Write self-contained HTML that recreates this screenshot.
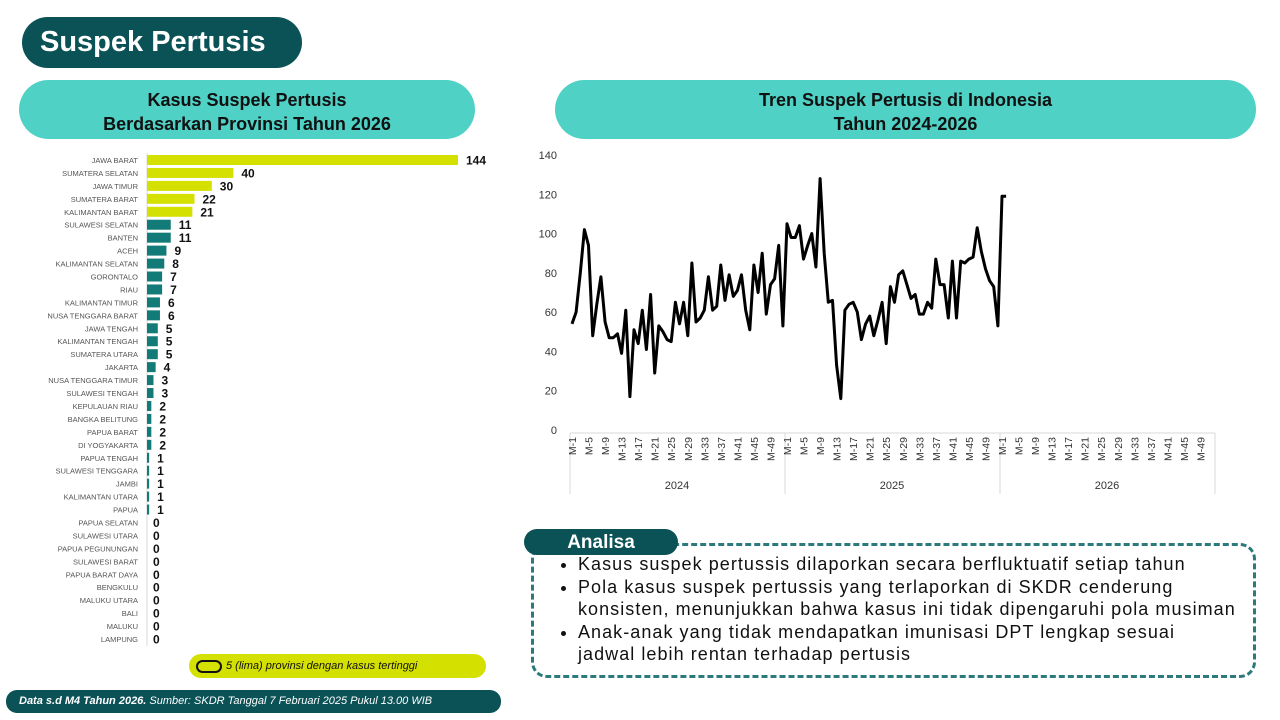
<!DOCTYPE html>
<html><head><meta charset="utf-8">
<style>
body{margin:0;width:1280px;height:720px;background:#fff;font-family:"Liberation Sans",sans-serif;position:relative;overflow:hidden}
.abs{position:absolute}
.title{left:22px;top:17px;width:280px;height:51px;background:#0b5257;border-radius:26px;color:#fff;font-weight:bold;font-size:29px;line-height:51px;padding-left:18px;box-sizing:border-box}
.hdr{background:#4fd1c5;border-radius:30px;color:#111;font-weight:bold;font-size:18px;text-align:center;line-height:24px;padding-top:8px;box-sizing:border-box}
</style></head><body>
<div class="abs title">Suspek Pertusis</div>
<div class="abs hdr" style="left:19px;top:80px;width:456px;height:59px">Kasus Suspek Pertusis<br>Berdasarkan Provinsi Tahun 2026</div>
<div class="abs hdr" style="left:555px;top:80px;width:701px;height:59px">Tren Suspek Pertusis di Indonesia<br>Tahun 2024-2026</div>

<svg class="abs" style="left:0;top:0" width="1280" height="720" id="charts"></svg>

<div class="abs" style="left:189px;top:654px;width:297px;height:24px;background:#d4e000;border-radius:12px;font-size:11px;font-style:italic;line-height:24px;color:#111"><span style="display:inline-block;width:22px;height:9px;border:2.5px solid #111;border-radius:7px;vertical-align:middle;margin:0 4px 0 7px"></span>5 (lima) provinsi dengan kasus tertinggi</div>
<div class="abs" style="left:6px;top:690px;width:495px;height:23px;background:#0b5257;border-radius:11px;color:#fff;font-size:11px;font-style:italic;line-height:23px;padding-left:13px;box-sizing:border-box"><b>Data s.d M4 Tahun 2026.</b> Sumber: SKDR Tanggal 7 Februari 2025 Pukul 13.00 WIB</div>

<div class="abs" style="left:531px;top:543px;width:725px;height:135px;border:3px dashed #2c7a7b;border-radius:16px;box-sizing:border-box"></div>
<div class="abs" style="left:524px;top:529px;width:154px;height:26px;background:#0b5257;border-radius:13px;color:#fff;font-weight:bold;font-size:19px;text-align:center;line-height:27px">Analisa</div>
<ul class="abs" style="left:548px;top:553px;width:700px;margin:0;padding:0 0 0 30px;font-size:18px;line-height:22.5px;color:#111;white-space:nowrap;letter-spacing:1.05px">
<li>Kasus suspek pertussis dilaporkan secara berfluktuatif setiap tahun</li>
<li>Pola kasus suspek pertussis yang terlaporkan di SKDR cenderung<br>konsisten, menunjukkan bahwa kasus ini tidak dipengaruhi pola musiman</li>
<li>Anak-anak yang tidak mendapatkan imunisasi DPT lengkap sesuai<br>jadwal lebih rentan terhadap pertusis</li>
</ul>

<script>
const provinces=["JAWA BARAT","SUMATERA SELATAN","JAWA TIMUR","SUMATERA BARAT","KALIMANTAN BARAT","SULAWESI SELATAN","BANTEN","ACEH","KALIMANTAN SELATAN","GORONTALO","RIAU","KALIMANTAN TIMUR","NUSA TENGGARA BARAT","JAWA TENGAH","KALIMANTAN TENGAH","SUMATERA UTARA","JAKARTA","NUSA TENGGARA TIMUR","SULAWESI TENGAH","KEPULAUAN RIAU","BANGKA BELITUNG","PAPUA BARAT","DI YOGYAKARTA","PAPUA TENGAH","SULAWESI TENGGARA","JAMBI","KALIMANTAN UTARA","PAPUA","PAPUA SELATAN","SULAWESI UTARA","PAPUA PEGUNUNGAN","SULAWESI BARAT","PAPUA BARAT DAYA","BENGKULU","MALUKU UTARA","BALI","MALUKU","LAMPUNG"];
const cases=[144,40,30,22,21,11,11,9,8,7,7,6,6,5,5,5,4,3,3,2,2,2,2,1,1,1,1,1,0,0,0,0,0,0,0,0,0,0];
const s2024=[54,60,80,102,94,48,64,78,55,47,47,49,39,61,17,51,44,61,41,69,29,53,50,46,45,65,54,65,48,85,55,57,61,78,61,63,84,66,79,68,71,79,61,51,84,70,90,59,74,77,94,53];
const s2025=[105,98,98,104,87,94,100,83,128,90,65,66,33,16,61,64,65,60,46,54,58,48,56,65,44,73,65,79,81,74,67,69,59,59,65,62,87,74,74,57,86,57,86,85,87,88,103,91,82,76,73,53];
const s2026=[119,119];
const years=["2024","2025","2026"];
const yTicks=[0,20,40,60,80,100,120,140];
const weekLabels=["M-1","M-5","M-9","M-13","M-17","M-21","M-25","M-29","M-33","M-37","M-41","M-45","M-49"];

const NS="http://www.w3.org/2000/svg";
const svg=document.getElementById('charts');
function el(t,a,txt){const e=document.createElementNS(NS,t);for(const k in a)e.setAttribute(k,a[k]);if(txt!==undefined)e.textContent=txt;svg.appendChild(e);return e;}

// bar chart
const bx0=147,bk=311/144,by0=160,bstep=(639-160)/(provinces.length-1);
const bx=v=>bx0+v*bk, byc=i=>by0+i*bstep;
el('line',{x1:bx0,x2:bx0,y1:153,y2:646,stroke:'#d9d9d9','stroke-width':1});
provinces.forEach((p,i)=>{
  const t=el('text',{x:138,y:byc(i)+3,'text-anchor':'end','font-size':7.5,fill:'#555'},p);
  
  
  const r=el('rect',{x:bx0,y:byc(i)-5,width:Math.max(bx(cases[i])-bx0,0),height:10,fill:i<5?'#d4e000':'#127b77'});
  
  
  const v=el('text',{x:bx(cases[i])+(cases[i]>0?8:6),y:byc(i)+4.5,'font-size':12,'font-weight':'bold',fill:'#111'},cases[i]);
  
  
});

// line chart
const lx0=570,weekW=215/52,ly0=430,lk=275/140;
const lx=w=>lx0+2+w*weekW, ly=v=>ly0-v*lk;
yTicks.forEach(t=>{
  const e=el('text',{x:557,y:ly(t)+4,'text-anchor':'end','font-size':11,fill:'#333'},t);
  
  
});
el('line',{x1:lx0,x2:lx0+645,y1:ly0+3,y2:ly0+3,stroke:'#d9d9d9'});
for(let y=0;y<=3;y++){const x=lx0+y*215;el('line',{x1:x,x2:x,y1:ly0+3,y2:494,stroke:'#d9d9d9'});}
years.forEach((yr,yi)=>{
  weekLabels.forEach(w=>{
    const n=parseInt(w.slice(2));const x=lx(yi*52+n-1)+4;
    const e=el('text',{x:x,y:ly0+7,'font-size':10.5,fill:'#333','text-anchor':'end',transform:`rotate(-90 ${x} ${ly0+7})`},w);
    
    
  });
  const e=el('text',{x:lx0+yi*215+107,y:489,'font-size':11,fill:'#333','text-anchor':'middle'},yr);
  
  
});
const all=s2024.concat(s2025,s2026);
const pts=all.map((v,i)=>lx(i).toFixed(1)+','+ly(v).toFixed(1)).join(' ');
const pl=el('polyline',{points:pts,fill:'none',stroke:'#000','stroke-width':3,'stroke-linejoin':'round'});


</script>
</body></html>
